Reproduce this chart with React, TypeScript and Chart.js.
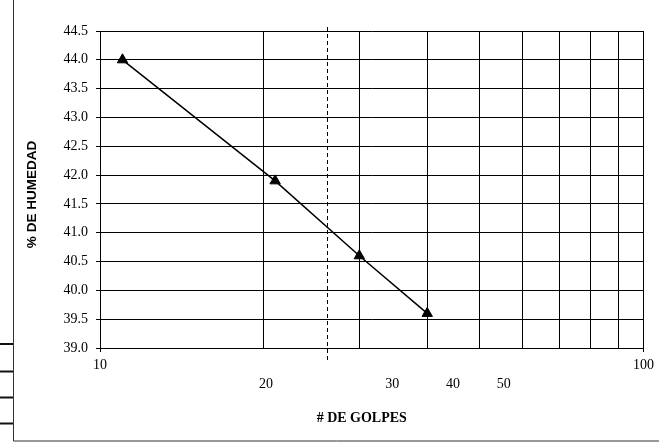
import React, { useEffect, useRef } from "react";
import { Chart, registerables } from "chart.js";

Chart.register(...registerables);

// Number of blows (log scale) and moisture content for each test point
const blows = [11, 21, 30, 40];
const moisture = [44.0, 41.9, 40.6, 39.6];

// Vertical grid positions on the logarithmic blows axis
const xGridValues = [10, 20, 30, 40, 50, 60, 70, 80, 90, 100];
// Values printed directly under the axis line
const xEdgeLabels = [10, 100];
// Loose labels printed lower, below the axis
const looseLabelTexts = ["20", "30", "40", "50"];
const looseLabelAnchors = [20.2, 34.5, 44.6, 55.3];

// Blow count marked with the dashed reference line
const referenceBlows = 26.2;

const Y_MIN = 39.0;
const Y_MAX = 44.5;
const Y_STEP = 0.5;

const serif = '"Liberation Serif", "Times New Roman", Times, serif';
const sans = '"Liberation Sans", Arial, Helvetica, sans-serif';

const decorations = {
  id: "decorations",
  beforeDraw(chart: any) {
    const { ctx, width, height } = chart;
    ctx.save();
    ctx.fillStyle = "#fff";
    ctx.fillRect(0, 0, width, height);
    // outer frame: left rule, bottom rule and small table stubs
    ctx.strokeStyle = "#333";
    ctx.lineWidth = 1;
    ctx.beginPath();
    ctx.moveTo(13.5, 0);
    ctx.lineTo(13.5, height - 3);
    ctx.lineTo(width, height - 3);
    ctx.stroke();
    ctx.lineWidth = 2;
    ctx.strokeStyle = "#111";
    [344, 371.5, 397.5, 423.5].forEach((y) => {
      ctx.beginPath();
      ctx.moveTo(0, y);
      ctx.lineTo(13, y);
      ctx.stroke();
    });
    ctx.restore();
  },
  afterDraw(chart: any) {
    const { ctx, chartArea } = chart;
    const xs = chart.scales.x;
    ctx.save();
    // dashed reference line
    const dx = Math.round(xs.getPixelForValue(referenceBlows)) + 0.5;
    ctx.strokeStyle = "#000";
    ctx.lineWidth = 1;
    ctx.setLineDash([4, 3]);
    ctx.beginPath();
    ctx.moveTo(dx, chartArea.top - 4);
    ctx.lineTo(dx, chartArea.bottom + 12);
    ctx.stroke();
    ctx.setLineDash([]);

    // loose blow-count labels
    ctx.fillStyle = "#000";
    ctx.font = `14px ${serif}`;
    ctx.textAlign = "center";
    ctx.textBaseline = "middle";
    looseLabelTexts.forEach((t, i) => {
      ctx.fillText(t, xs.getPixelForValue(looseLabelAnchors[i]), chartArea.bottom + 36);
    });

    // axis titles
    ctx.font = `bold 14px ${serif}`;
    ctx.fillText("# DE GOLPES", (chartArea.left + chartArea.right) / 2 - 10, chartArea.bottom + 70);

    ctx.translate(32, (chartArea.top + chartArea.bottom) / 2 + 5);
    ctx.rotate(-Math.PI / 2);
    ctx.font = `bold 13.5px ${sans}`;
    ctx.fillText("% DE HUMEDAD", 0, 0);
    ctx.restore();
  },
};

export default function App() {
  const canvasRef = useRef<HTMLCanvasElement | null>(null);

  useEffect(() => {
    const canvas = canvasRef.current;
    if (!canvas) return;
    const chart = new Chart(canvas, {
      type: "scatter",
      data: {
        datasets: [
          {
            data: blows.map((b, i) => ({ x: b, y: moisture[i] })),
            showLine: true,
            borderColor: "#000",
            borderWidth: 1.5,
            pointStyle: "triangle",
            pointRadius: 6,
            pointHoverRadius: 6,
            pointBackgroundColor: "#000",
            pointBorderColor: "#000",
            pointBorderWidth: 1,
          },
        ],
      },
      options: {
        responsive: false,
        animation: false,
        events: [],
        layout: { padding: { top: 31, right: 14, left: 0, bottom: 0 } },
        plugins: {
          legend: { display: false },
          title: { display: false },
          tooltip: { enabled: false },
        },
        scales: {
          x: {
            type: "logarithmic",
            min: 10,
            max: 100,
            afterBuildTicks: (scale: any) => {
              scale.ticks = xGridValues.map((v) => ({ value: v }));
            },
            afterFit: (scale: any) => {
              scale.height = 96;
            },
            grid: {
              color: "#000",
              lineWidth: 1,
              drawTicks: true,
              tickLength: 4,
              tickColor: (c: any) =>
                c.tick && xEdgeLabels.includes(c.tick.value) ? "#000" : "rgba(0,0,0,0)",
            },
            border: { color: "#000", width: 1 },
            ticks: {
              autoSkip: false,
              maxRotation: 0,
              padding: 5,
              color: "#000",
              font: { family: serif, size: 14 },
              callback: (v: any) => (xEdgeLabels.includes(Number(v)) ? String(v) : ""),
            },
          },
          y: {
            min: Y_MIN,
            max: Y_MAX,
            afterFit: (scale: any) => {
              scale.width = 100;
            },
            grid: {
              color: "#000",
              lineWidth: 1,
              drawTicks: true,
              tickLength: 4,
              tickColor: "#000",
            },
            border: { color: "#000", width: 1 },
            ticks: {
              stepSize: Y_STEP,
              padding: 8,
              color: "#000",
              font: { family: serif, size: 14 },
              callback: (v: any) => Number(v).toFixed(1),
            },
          },
        },
      },
      plugins: [decorations],
    });
    return () => chart.destroy();
  }, []);

  return (
    <div style={{ position: "fixed", left: 0, top: 0, width: 659, height: 444, background: "#fff" }}>
      <canvas ref={canvasRef} width={659} height={444} />
    </div>
  );
}
